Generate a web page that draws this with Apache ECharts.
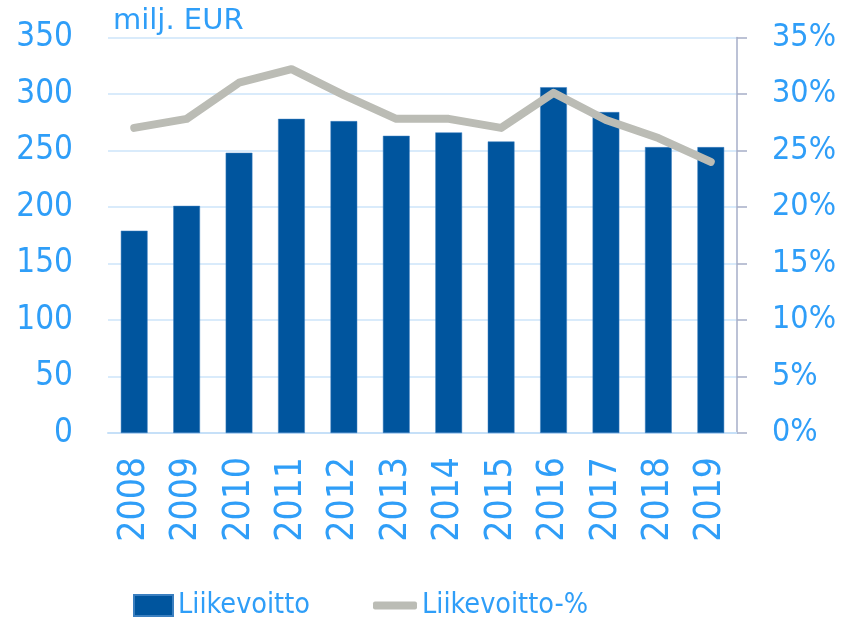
<!DOCTYPE html>
<html>
<head>
<meta charset="utf-8">
<script src="https://cdn.jsdelivr.net/npm/echarts@6/dist/echarts.min.js"></script>
<style>
html,body{margin:0;padding:0;background:#fff;}
#chart{width:848px;height:621px;}
</style>
</head>
<body>
<div id="chart"></div>
<script>
const years = ['2008','2009','2010','2011','2012','2013','2014','2015','2016','2017','2018','2019'];
const liikevoitto = [179, 201, 248, 278, 276, 263, 266, 258, 306, 284, 253, 253];
const liikevoittoPct = [27.0, 27.8, 31.0, 32.2, 29.9, 27.8, 27.8, 27.0, 30.1, 27.7, 26.1, 24.0];
const unitLabel = 'milj. EUR';
const seriesNames = ['Liikevoitto', 'Liikevoitto-%'];

const FONT = '"DejaVu Sans Condensed", "DejaVu Sans", sans-serif';
const BLUE_TEXT = '#2f9ef8';

const chart = echarts.init(document.getElementById('chart'));
chart.setOption({
  animation: false,
  backgroundColor: '#ffffff',
  title: {
    text: unitLabel,
    left: 108, top: 2,
    textStyle: { color: BLUE_TEXT, fontFamily: '"DejaVu Sans", sans-serif', fontSize: 29, fontWeight: 'normal' }
  },
  legend: [
    {
      data: [{ name: seriesNames[0], icon: 'rect' }],
      left: 128, top: 586,
      itemWidth: 39, itemHeight: 21, itemGap: 5,
      textStyle: { color: BLUE_TEXT, fontFamily: FONT, fontSize: 28.5 }
    },
    {
      data: [{ name: seriesNames[1], icon: 'roundRect' }],
      left: 368, top: 586,
      itemWidth: 44, itemHeight: 8, itemGap: 5,
      textStyle: { color: BLUE_TEXT, fontFamily: FONT, fontSize: 28.5 }
    }
  ],
  grid: { left: 108, right: 111, top: 37.5, bottom: 188, containLabel: false },
  xAxis: {
    type: 'category',
    data: years,
    boundaryGap: true,
    axisLine: { show: true, lineStyle: { color: '#c6e0f8', width: 2 } },
    axisTick: { show: false },
    axisLabel: { rotate: 90, margin: 24, color: BLUE_TEXT, fontFamily: FONT, fontSize: 37 }
  },
  yAxis: [
    {
      type: 'value', min: 0, max: 350, interval: 50,
      axisLine: { show: false }, axisTick: { show: false },
      axisLabel: { margin: 35, color: BLUE_TEXT, fontFamily: FONT, fontSize: 33 },
      splitLine: { show: true, lineStyle: { color: '#cde4fa', width: 1.5 } }
    },
    {
      type: 'value', min: 0, max: 35, interval: 5, position: 'right',
      axisLine: { show: true, lineStyle: { color: '#a6aec8', width: 1.5 } },
      axisTick: { show: true, length: 10, lineStyle: { color: '#a6aec8', width: 1.5 } },
      axisLabel: { margin: 35, color: BLUE_TEXT, fontFamily: FONT, fontSize: 32, formatter: '{value}%' },
      splitLine: { show: false }
    }
  ],
  series: [
    {
      name: seriesNames[0], type: 'bar', data: liikevoitto,
      barWidth: '51%', yAxisIndex: 0,
      itemStyle: { color: '#00559e', borderColor: '#3a7fc0', borderWidth: 0.5 }
    },
    {
      name: seriesNames[1], type: 'line', data: liikevoittoPct,
      yAxisIndex: 1, symbol: 'none', z: 5,
      lineStyle: { color: '#bbbcb5', width: 8, cap: 'round', join: 'round' },
      itemStyle: { color: '#bbbcb5' }
    }
  ]
});
</script>
</body>
</html>
